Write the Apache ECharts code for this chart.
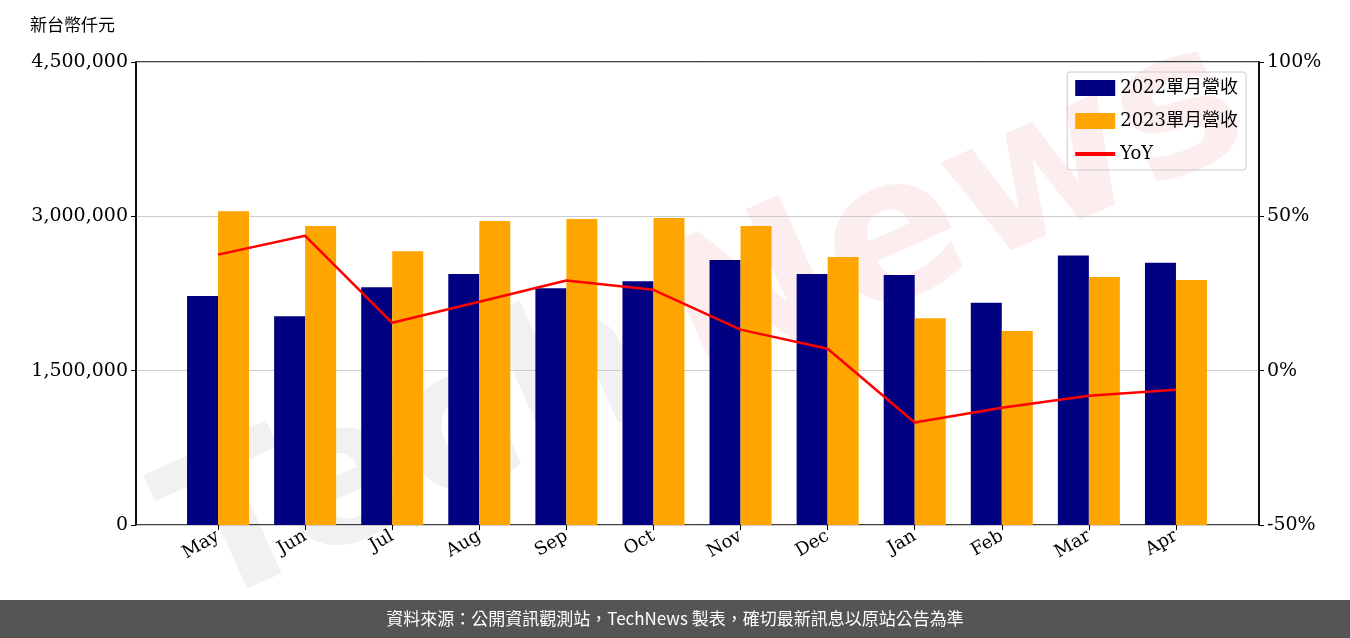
<!DOCTYPE html>
<html><head><meta charset="utf-8">
<script src="https://cdn.jsdelivr.net/npm/echarts@6/dist/echarts.min.js"></script>
<style>html,body{margin:0;padding:0;background:#fff}#c{width:1350px;height:638px}</style>
</head><body><div id="c"></div>
<script>
const categories=['May','Jun','Jul','Aug','Sep','Oct','Nov','Dec','Jan','Feb','Mar','Apr'];
const rev2022=[2226000,2030000,2310000,2440000,2300000,2370000,2575000,2440000,2430000,2160000,2620000,2550000];
const rev2023=[3050000,2905000,2660000,2955000,2975000,2985000,2905000,2605000,2010000,1885000,2410000,2380000];
const yoy=[37.6,43.7,15.5,22.3,29.2,26.2,13.3,7.1,-16.8,-12.0,-8.1,-6.2];
const F='DejaVu Serif';
const chart=echarts.init(document.getElementById('c'));
const ax={axisLine:{show:true,lineStyle:{color:'#000',width:1.5}},axisTick:{show:true,length:5,lineStyle:{color:'#000'}}};
chart.setOption({
 animation:false,
 textStyle:{fontFamily:F},
 graphic:[
  {type:'text',left:30,top:16,style:{text:'新台幣仟元',font:'17px "Noto Sans CJK TC"',fill:'#000'}},
  {type:'text',x:140,y:470,rotation:0.42,z:-1,style:{text:'Tech',font:'bold 200px "DejaVu Sans"',fill:'rgba(150,150,150,0.13)'}},
  {type:'text',x:640,y:250,rotation:0.42,z:-1,style:{text:'News',font:'bold 200px "DejaVu Sans"',fill:'rgba(230,120,120,0.13)'}},
  {type:'rect',shape:{x:0,y:600,width:1350,height:38},style:{fill:'#555'}},
  {type:'text',x:675,y:619,style:{text:'資料來源：公開資訊觀測站，TechNews 製表，確切最新訊息以原站公告為準',font:'17px "Noto Sans CJK TC"',fill:'#fff',align:'center',verticalAlign:'middle'}}
 ],
 legend:{right:104,top:72,orient:'vertical',itemWidth:40,itemHeight:16,itemGap:15,borderColor:'#ccc',borderWidth:1,borderRadius:3,padding:[7,8,7,8],
  textStyle:{fontFamily:'"DejaVu Serif","Noto Sans CJK TC"',fontSize:18,color:'#000'},
  data:[{name:'2022單月營收',icon:'rect'},{name:'2023單月營收',icon:'rect'},{name:'YoY',icon:'path://M0,0H10V1H0Z'}]},
 grid:[{left:174.5,right:130.5,top:62,bottom:113},{left:136,right:91,top:62,bottom:113,show:true,borderColor:'#000',borderWidth:1.5}],
 xAxis:[{type:'category',gridIndex:0,data:categories,axisTick:{show:true,alignWithLabel:true,length:5,lineStyle:{color:'#000'}},
  axisLine:{show:false},
  axisLabel:{rotate:30,fontSize:18,color:'#000',fontFamily:F,margin:10}},
  {type:'value',gridIndex:1,show:false,min:0,max:1}],
 yAxis:[
  {type:'value',gridIndex:0,min:0,max:4500000,show:false},
  {type:'value',gridIndex:0,min:-50,max:100,show:false},
  {type:'value',gridIndex:1,min:0,max:4500000,interval:1500000,...ax,
   splitLine:{lineStyle:{color:'#ccc'}},axisLabel:{fontSize:19,color:'#000',fontFamily:F,formatter:v=>v.toLocaleString('en-US')}},
  {type:'value',gridIndex:1,min:-50,max:100,interval:50,...ax,
   splitLine:{show:false},axisLabel:{fontSize:19,color:'#000',fontFamily:F,formatter:'{value}%'}}
 ],
 series:[
  {name:'2022單月營收',type:'bar',data:rev2022,barWidth:31,barGap:'0%',itemStyle:{color:'#000080'}},
  {name:'2023單月營收',type:'bar',data:rev2023,barWidth:31,itemStyle:{color:'#FFA500'}},
  {name:'YoY',type:'line',yAxisIndex:1,data:yoy,symbol:'none',lineStyle:{color:'#FF0000',width:2.5},itemStyle:{color:'#FF0000'}},
  {type:'line',xAxisIndex:1,yAxisIndex:2,data:[],silent:true}
 ]
});
</script></body></html>
